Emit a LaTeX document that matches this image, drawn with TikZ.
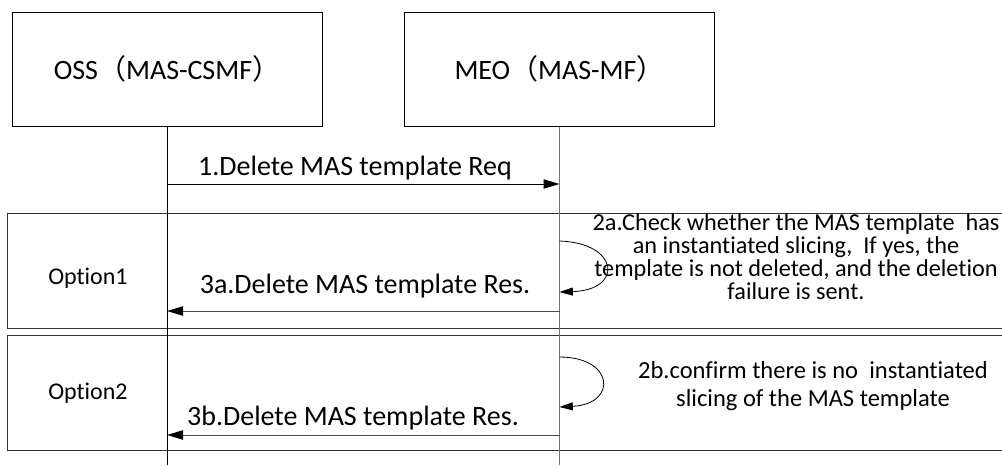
\documentclass[tikz,border=0pt]{standalone}
\usepackage{fontspec}
\setmainfont{Carlito}[Ligatures=NoCommon]
\newfontfamily\cjk{Noto Sans CJK SC}
\usetikzlibrary{arrows.meta}

\begin{document}
\begin{tikzpicture}[
            x=0.75pt, y=-0.75pt,
            line width=0.75pt,
            actor/.style={draw, minimum width=232.5pt, minimum height=85.5pt, font=\fontsize{21}{25}\selectfont},
            msglabel/.style={font=\fontsize{21}{25}\selectfont},
            optlabel/.style={font=\fontsize{18}{20}\selectfont},
            note/.style={align=center, font=\fontsize{18.2}{17.2}\selectfont},
            msg/.style={-{Triangle[length=12pt,width=7pt,black]}},
            selfmsg/.style={-{Triangle[length=10pt,width=6pt]}},
            % lifeline/.style={draw=black!55},
            ]
            \useasboundingbox (0,0) rectangle (1002,465);
            \node[actor] (oss) at (167,69) {OSS{\cjk（}MAS-CSMF{\cjk）}};
            \node[actor] (meo) at (559.5,69) {MEO{\cjk（}MAS-MF{\cjk）}};
            % option frames
            \draw[black!80] (1002,213) -| (7,328) -- (1002,328);
            \draw[black!80] (1002,335) -| (7,450) -- (1002,450);
            \node[optlabel] (opt1) at (88,278) {Option1};
            \node[optlabel] (opt2) at (88,393) {Option2};
            % lifelines
            \coordinate (ossend) at (oss.south |- 0,465);
            \coordinate (meoend) at (meo.south |- 0,465);
            \draw (oss) -- (ossend);
            \draw[black!55] (meo) -- (meoend);
            \foreach \m/\y in {1/184, 3a/311, 3b/435, 2a/241, 2ax/292, 2b/357, 2bx/407} {
                \coordinate (oss\m) at (oss.south |- 0,\y);
                \coordinate (meo\m) at (meo.south |- 0,\y);
            }
            \draw[msg] (oss1) -- (meo1);
            \draw[msg, black!70] (meo3a) -- (oss3a);
            \draw[msg, black!70] (meo3b) -- (oss3b);
            \draw[selfmsg, line width=0.6pt] (meo2a) .. controls +(60,2) and +(64,-2) .. (meo2ax);
            \draw[selfmsg, line width=0.6pt] (meo2b) .. controls +(55,0) and +(58,-3) .. (meo2bx);
            \node[msglabel] (req) at (355,168) {1.Delete MAS template Req};
            \node[msglabel] (resa) at (365,286) {3a.Delete MAS template Res.};
            \node[msglabel] (resb) at (353,418) {3b.Delete MAS template Res.};
            \node[note] (chk) at (796,257) {2a.Check whether the MAS template \ has\\an instantiated slicing, \ If yes, the\\template is not deleted, and the deletion\\failure is sent.};
            \node[note, font=\fontsize{18.4}{21}\selectfont] (cfm) at (813,386) {2b.confirm there is no \ instantiated\\slicing of the MAS template};
\end{tikzpicture}
\end{document}
